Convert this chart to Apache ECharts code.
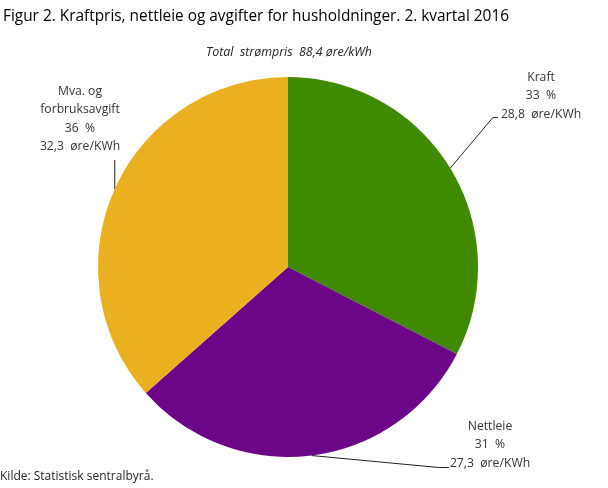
<!DOCTYPE html>
<html>
<head>
<meta charset="utf-8">
<script src="https://cdn.jsdelivr.net/npm/echarts@6/dist/echarts.min.js"></script>
<style>
  html, body { margin: 0; padding: 0; background: #fff; }
  #chart { width: 608px; height: 488px; }
</style>
</head>
<body>
<div id="chart"></div>
<script>
// data
var categories = ['Kraft', 'Nettleie', 'Mva. og\nforbruksavgift'];
var values = [28.8, 27.3, 32.3];
var total = '88,4';

var colors = ['#3f8a00', '#6b0688', '#ebb020'];
// where each label block sits (centre), pixels
var labelPos = [[541, 96], [490, 445], [80, 119]];

var chart = echarts.init(document.getElementById('chart'));

var pieData = categories.map(function (c, i) {
	return { name: c, value: values[i], itemStyle: { color: colors[i] } };
});

var option = {
	animation: false,
	textStyle: { fontFamily: 'Open Sans' },
	title: [
		{
			text: 'Figur 2. Kraftpris, nettleie og avgifter for husholdninger. 2. kvartal 2016',
			left: 3,
			top: 7,
			padding: 0,
			textStyle: { fontFamily: 'Open Sans', fontSize: 15.4, fontWeight: 'normal', color: '#000', lineHeight: 20 }
		},
		{
			text: 'Total  strømpris  ' + total + ' øre/kWh',
			left: 289,
			textAlign: 'center',
			top: 44,
			padding: 0,
			textStyle: { fontFamily: 'Open Sans', fontSize: 12.4, fontStyle: 'italic', fontWeight: 'normal', color: '#222', lineHeight: 16 }
		},
		{
			text: 'Kilde: Statistisk sentralbyrå.',
			left: 0,
			top: 469,
			padding: 0,
			textStyle: { fontFamily: 'Open Sans', fontSize: 12, fontWeight: 'normal', color: '#222', lineHeight: 16 }
		}
	],
	series: [{
		type: 'pie',
		center: [288, 267],
		radius: 190,
		startAngle: 90,
		clockwise: true,
		percentPrecision: 0,
		avoidLabelOverlap: false,
		data: pieData,
		label: {
			show: true,
			position: 'outside',
			color: '#333',
			fontFamily: 'Open Sans',
			fontSize: 12.2,
			lineHeight: 18.5,
			align: 'center',
			formatter: function (p) {
				return p.name + '\n' + p.percent + '  %\n' + String(p.value).replace('.', ',') + '  øre/KWh';
			}
		},
		labelLine: {
			show: true,
			lineStyle: { color: '#222', width: 1 }
		},
		emphasis: { disabled: true },
		labelLayout: function (params) {
			var i = params.dataIndex;
			var x = labelPos[i][0], y = labelPos[i][1];
			var w = params.labelRect.width, h = params.labelRect.height;
			var start = params.labelLinePoints[0];
			var left = x - w / 2, bottom = y + h / 2;
			var pts;
			if (i === 2) {
				pts = [start, [start[0], bottom + 4], [start[0], bottom + 4]];
			} else {
				var ly = bottom - 18.5 / 2 + (i === 0 ? 3 : 4);
				var ex = left - (i === 0 ? 3 : 1);
				pts = [start, [ex - (i === 0 ? 5 : 10), ly], [ex, ly]];
			}
			return {
				x: x,
				y: y,
				align: 'center',
				verticalAlign: 'middle',
				labelLinePoints: pts
			};
		}
	}]
};
chart.setOption(option);
window.onresize = chart.resize;
</script>
</body>
</html>
